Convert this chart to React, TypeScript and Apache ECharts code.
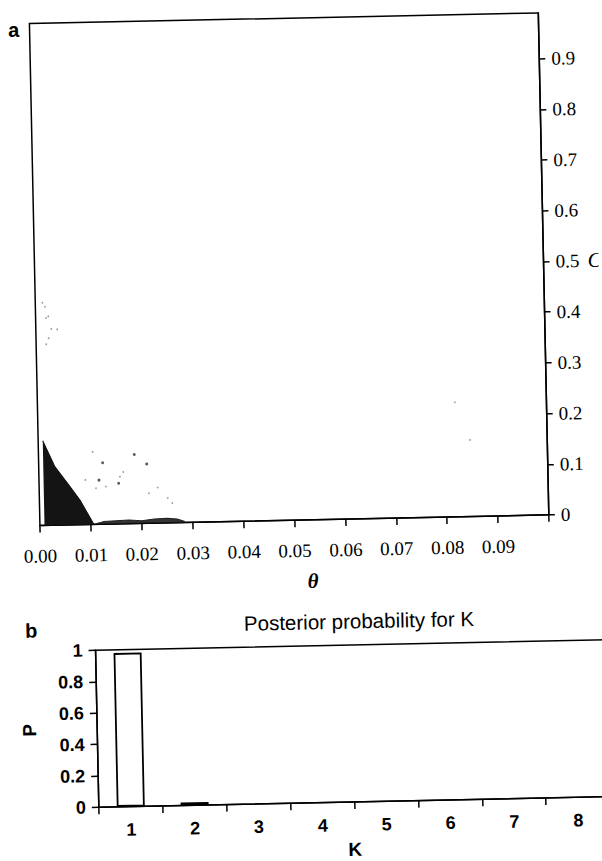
import React, { useEffect, useRef } from "react";
import * as echarts from "echarts";

// ---- Panel a: joint posterior of theta and C ----
const thetaTicks = [0, 0.01, 0.02, 0.03, 0.04, 0.05, 0.06, 0.07, 0.08, 0.09, 0.1];
const thetaLabels = [0, 0.01, 0.02, 0.03, 0.04, 0.05, 0.06, 0.07, 0.08, 0.09];
const cTicks = [0, 0.1, 0.2, 0.3, 0.4, 0.5, 0.6, 0.7, 0.8, 0.9];
const cMax = 0.99;

// dense (dark) posterior mass near the origin: [theta, C] upper edge
const denseMass = [
  [0.0009, 0.167],
  [0.0032, 0.115],
  [0.0061, 0.075],
  [0.008, 0.048],
  [0.0106, 0.0],
];
// thin speckled strip along C ~ 0
const lowStrip = [
  [0.011, 0.001],
  [0.0125, 0.005],
  [0.015, 0.006],
  [0.0175, 0.007],
  [0.02, 0.005],
  [0.0225, 0.008],
  [0.025, 0.009],
  [0.027, 0.007],
  [0.0285, 0.002],
];
// isolated darker samples
const darkDots = [
  [0.01257, 0.121],
  [0.01882, 0.136],
  [0.02122, 0.117],
  [0.01179, 0.087],
  [0.01564, 0.08],
];
// isolated faint samples
const faintDots = [
  [0.01065, 0.143],
  [0.01312, 0.074],
  [0.01116, 0.071],
  [0.02328, 0.07],
  [0.02155, 0.059],
  [0.02521, 0.049],
  [0.02609, 0.039],
  [0.01658, 0.102],
  [0.0159, 0.093],
  [0.0091, 0.088],
  [0.00138, 0.439],
  [0.00189, 0.431],
  [0.0025, 0.412],
  [0.00204, 0.409],
  [0.00303, 0.387],
  [0.0042, 0.386],
  [0.00248, 0.369],
  [0.00198, 0.357],
  [0.082, 0.226],
  [0.0848, 0.151],
];

// ---- Panel b: posterior probability for K ----
const kCategories = ["1", "2", "3", "4", "5", "6", "7", "8"];
const kProbability = [0.98, 0.02, 0, 0, 0, 0, 0, 0];

const serif = "Liberation Serif";
const sans = "Liberation Sans";

export default function App() {
  const ref = useRef<HTMLDivElement>(null);

  useEffect(() => {
    const chart = echarts.init(ref.current!, null, { renderer: "svg" });
    chart.setOption({
      animation: false,
      backgroundColor: "#fff",
      grid: [
        {
          left: 38,
          right: 55,
          top: 18,
          height: 502,
          show: true,
          borderColor: "#000",
          borderWidth: 1.5,
          backgroundColor: "transparent",
        },
        {
          left: 91,
          right: -9,
          top: 646,
          height: 160,
          show: true,
          borderColor: "#000",
          borderWidth: 1.5,
          backgroundColor: "transparent",
        },
      ],
      xAxis: [
        {
          gridIndex: 0,
          type: "value",
          min: 0,
          max: 0.1,
          interval: 0.01,
          axisLine: {
            show: true,
            onZero: false,
            lineStyle: { color: "#000", width: 1.5 },
          },
          axisTick: {
            show: true,
            inside: false,
            length: 7,
            lineStyle: { color: "#000", width: 1.5 },
            customValues: thetaTicks,
          },
          axisLabel: {
            margin: 21,
            color: "#000",
            fontFamily: serif,
            fontSize: 19,
            customValues: thetaLabels,
            formatter: (v: number) => v.toFixed(2),
          },
          splitLine: { show: false },
        },
        {
          gridIndex: 1,
          type: "category",
          data: kCategories,
          boundaryGap: true,
          axisLine: {
            show: true,
            onZero: false,
            lineStyle: { color: "#000", width: 1.5 },
          },
          axisTick: {
            show: true,
            inside: false,
            length: 7,
            lineStyle: { color: "#000", width: 1.5 },
          },
          axisLabel: {
            margin: 14,
            color: "#000",
            fontFamily: sans,
            fontWeight: "bold",
            fontSize: 18,
          },
          name: "K",
          nameLocation: "middle",
          nameGap: 38,
          nameTextStyle: {
            color: "#000",
            fontFamily: sans,
            fontWeight: "bold",
            fontSize: 19,
          },
          splitLine: { show: false },
        },
      ],
      yAxis: [
        {
          gridIndex: 0,
          type: "value",
          position: "right",
          min: 0,
          max: cMax,
          interval: 0.1,
          axisLine: {
            show: true,
            onZero: false,
            lineStyle: { color: "#000", width: 1.5 },
          },
          axisTick: {
            show: true,
            inside: false,
            length: 6,
            lineStyle: { color: "#000", width: 1.5 },
            customValues: cTicks,
          },
          axisLabel: {
            margin: 12,
            color: "#000",
            fontFamily: serif,
            fontSize: 19,
            customValues: cTicks,
            formatter: (v: number) => (v === 0 ? "0" : v.toFixed(1)),
          },
          splitLine: { show: false },
        },
        {
          gridIndex: 1,
          type: "value",
          min: 0,
          max: 1,
          interval: 0.2,
          axisLine: {
            show: true,
            onZero: false,
            lineStyle: { color: "#000", width: 1.5 },
          },
          axisTick: {
            show: true,
            inside: false,
            length: 7,
            lineStyle: { color: "#000", width: 1.5 },
          },
          axisLabel: {
            margin: 13,
            color: "#000",
            fontFamily: sans,
            fontWeight: "bold",
            fontSize: 18,
            formatter: (v: number) =>
              v === 0 ? "0" : v === 1 ? "1" : v.toFixed(1),
          },
          name: "P",
          nameLocation: "middle",
          nameGap: 58,
          nameTextStyle: {
            color: "#000",
            fontFamily: sans,
            fontWeight: "bold",
            fontSize: 19,
          },
          splitLine: { show: false },
        },
      ],
      series: [
        {
          type: "line",
          xAxisIndex: 0,
          yAxisIndex: 0,
          data: denseMass,
          symbol: "none",
          lineStyle: { color: "#111", width: 1 },
          areaStyle: { color: "#141414", opacity: 1 },
          z: 3,
        },
        {
          type: "line",
          xAxisIndex: 0,
          yAxisIndex: 0,
          data: lowStrip,
          symbol: "none",
          smooth: false,
          lineStyle: { color: "#222", width: 1 },
          areaStyle: { color: "#1e1e1e", opacity: 0.9 },
          z: 3,
        },
        {
          type: "scatter",
          xAxisIndex: 0,
          yAxisIndex: 0,
          data: darkDots,
          symbol: "circle",
          symbolSize: 3,
          itemStyle: { color: "#333" },
          z: 4,
        },
        {
          type: "scatter",
          xAxisIndex: 0,
          yAxisIndex: 0,
          data: faintDots,
          symbol: "circle",
          symbolSize: 1.8,
          itemStyle: { color: "#888" },
          z: 4,
        },
        {
          type: "bar",
          xAxisIndex: 1,
          yAxisIndex: 1,
          barWidth: 28,
          data: kProbability.map((v, i) => ({
            value: v,
            itemStyle:
              i === 0
                ? { color: "#fff", borderColor: "#000", borderWidth: 1.8 }
                : { color: "#000", borderColor: "#000", borderWidth: 0 },
          })),
          z: 3,
        },
      ],
      graphic: [
        {
          type: "text",
          x: 22,
          y: 24,
          style: {
            text: "a",
            fill: "#000",
            fontFamily: sans,
            fontWeight: "bold",
            fontSize: 20,
            align: "center",
            verticalAlign: "middle",
            textAlign: "center",
            textVerticalAlign: "middle",
          },
        },
        {
          type: "text",
          x: 591,
          y: 266,
          style: {
            text: "C",
            fill: "#000",
            fontFamily: serif,
            fontStyle: "italic",
            fontSize: 21,
            align: "left",
            verticalAlign: "middle",
            textAlign: "left",
            textVerticalAlign: "middle",
          },
        },
        {
          type: "text",
          x: 310,
          y: 581,
          style: {
            text: "θ",
            fill: "#000",
            fontFamily: serif,
            fontStyle: "italic",
            fontWeight: "bold",
            fontSize: 21,
            align: "center",
            verticalAlign: "middle",
            textAlign: "center",
            textVerticalAlign: "middle",
          },
        },
        {
          type: "text",
          x: 27,
          y: 625,
          style: {
            text: "b",
            fill: "#000",
            fontFamily: sans,
            fontWeight: "bold",
            fontSize: 20,
            align: "center",
            verticalAlign: "middle",
            textAlign: "center",
            textVerticalAlign: "middle",
          },
        },
        {
          type: "text",
          x: 355,
          y: 622,
          style: {
            text: "Posterior probability for K",
            fill: "#000",
            fontFamily: sans,
            fontSize: 20.5,
            align: "center",
            verticalAlign: "middle",
            textAlign: "center",
            textVerticalAlign: "middle",
          },
        },
      ],
    });
    return () => chart.dispose();
  }, []);

  return (
    <div
      ref={ref}
      style={{
        position: "absolute",
        left: 0,
        top: 0,
        width: 602,
        height: 861,
        transform: "rotate(-1.2deg)",
        transformOrigin: "50% 50%",
      }}
    />
  );
}
